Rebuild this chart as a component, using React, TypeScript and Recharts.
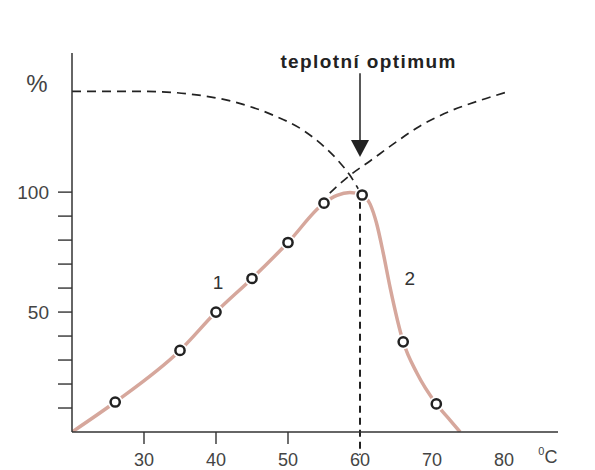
import React from 'react';
import {
  ComposedChart,
  Line,
  Scatter,
  XAxis,
  YAxis,
  ReferenceLine,
  ReferenceDot,
  Label,
} from 'recharts';

// Solid (measured) activity curve
const curveTemps = [20, 26, 35, 40, 45, 50, 55, 56.8, 58.6, 60.3, 61.4, 62.3, 63.2, 64.2, 66, 67.9, 70.6, 72.5, 73.9];
const curveActivity = [0, 12.5, 34, 50, 64, 79, 95.4, 98.6, 99.8, 98.8, 95, 87, 75, 60, 37.6, 24.6, 11.7, 5, 0];

// Measured points (open circles)
const circleTemps = [26, 35, 40, 45, 50, 55, 60.3, 66, 70.6];
const circleActivity = [12.5, 34, 50, 64, 79, 95.4, 98.8, 37.6, 11.7];

// Dashed curve 1 (stability, decreasing)
const stabTemps = [20, 30, 36, 42, 48, 52, 55, 57, 58.6, 60.2];
const stabValues = [142, 142, 141, 138, 132, 126, 119, 113, 107, 99];

// Dashed curve 2 (reaction rate, increasing)
const rateTemps = [55.8, 58.6, 61.4, 64.6, 68.3, 72.5, 76.7, 80.4];
const rateValues = [99.6, 107, 113, 120, 127.5, 133.75, 138.3, 141.7];

// Axis ticks
const xTicks = [30, 40, 50, 60, 70, 80];
const xTicksWithLine = [30, 40, 50];
const yTicks = [10, 20, 30, 40, 50, 60, 70, 80, 90, 100];
const yLabelled = [50, 100];

// Annotations
const optimumTemp = 60;
const optimumLabel = 'teplotní optimum';
const curveLabels = [
  { x: 40.3, y: 62.5, text: '1' },
  { x: 66.9, y: 64.2, text: '2' },
];

const toPoints = (xs: number[], ys: number[]) => xs.map((x, i) => ({ x, y: ys[i] }));
const curveData = toPoints(curveTemps, curveActivity);
const circleData = toPoints(circleTemps, circleActivity);
const stabData = toPoints(stabTemps, stabValues);
const rateData = toPoints(rateTemps, rateValues);

const FONT = '"Liberation Sans", Arial, sans-serif';
const AXIS = '#333';
const TICK_SIZE = 12;
const TICK_MARGIN = 9;

const XTick = (props: any) => {
  const { x, y, payload } = props;
  const v = payload.value;
  return (
    <g>
      {xTicksWithLine.includes(v) && (
        <line
          x1={x}
          x2={x}
          y1={y - TICK_SIZE - TICK_MARGIN}
          y2={y - TICK_MARGIN}
          stroke={AXIS}
          strokeWidth={1.4}
        />
      )}
      <text x={x} y={y} dy="0.71em" textAnchor="middle" fontFamily={FONT} fontSize={18} fill="#444">
        {v}
      </text>
    </g>
  );
};

const CircleMarker = (props: any) => {
  const { cx, cy } = props;
  return (
    <g>
      <circle cx={cx} cy={cy} r={7.5} fill="#fff" />
      <circle cx={cx} cy={cy} r={4.6} fill="#fff" stroke="#222" strokeWidth={2.5} />
    </g>
  );
};

const ArrowHead = (props: any) => {
  const { cx, cy } = props;
  return <polygon points={`${cx - 9},${cy - 17} ${cx + 9},${cy - 17} ${cx},${cy}`} fill="#222" />;
};

const UnitLabel = (props: any) => {
  const vb = props.viewBox || {};
  return (
    <text x={vb.x} y={vb.y} fontFamily={FONT} fill="#444" textAnchor="middle">
      <tspan fontSize={11} dy={-2}>0</tspan>
      <tspan fontSize={18} dy={8}>C</tspan>
    </text>
  );
};

export default function App() {
  return (
    <div style={{ position: 'absolute', left: 0, top: 0, background: '#fff' }}>
      <ComposedChart
        width={595}
        height={470}
        margin={{ top: 53, right: 37, bottom: 8, left: 12 }}
      >
        <XAxis
          type="number"
          dataKey="x"
          domain={[20, 87.5]}
          ticks={xTicks}
          allowDataOverflow
          height={30}
          tickLine={false}
          tickSize={TICK_SIZE}
          tickMargin={TICK_MARGIN}
          tick={<XTick />}
          axisLine={{ stroke: AXIS, strokeWidth: 1.5 }}
        />
        <YAxis
          type="number"
          dataKey="y"
          domain={[0, 158]}
          ticks={yTicks}
          allowDataOverflow
          width={60}
          tickSize={14}
          tickMargin={9}
          tickFormatter={(v: number) => (yLabelled.includes(v) ? String(v) : '')}
          tick={{ fill: '#444', fontSize: 19, fontFamily: FONT }}
          tickLine={{ stroke: AXIS, strokeWidth: 1.4 }}
          axisLine={{ stroke: AXIS, strokeWidth: 1.5 }}
        >
          <Label
            value="%"
            position="insideTop"
            offset={22}
            dx={-5}
            style={{ fontSize: 24, fontFamily: FONT, fill: '#444' }}
          />
        </YAxis>

        <Line
          data={curveData}
          dataKey="y"
          type="monotone"
          stroke="#d6a79c"
          strokeWidth={3.5}
          dot={false}
          activeDot={false}
          isAnimationActive={false}
        />
        <Line
          data={stabData}
          dataKey="y"
          type="monotone"
          stroke="#222"
          strokeWidth={1.7}
          strokeDasharray="9 6"
          dot={false}
          activeDot={false}
          isAnimationActive={false}
        />
        <Line
          data={rateData}
          dataKey="y"
          type="monotone"
          stroke="#222"
          strokeWidth={1.7}
          strokeDasharray="9 6"
          dot={false}
          activeDot={false}
          isAnimationActive={false}
        />

        <ReferenceLine
          segment={[{ x: optimumTemp, y: 96 }, { x: optimumTemp, y: -9.5 }]}
          stroke="#222"
          strokeWidth={2}
          strokeDasharray="7 5"
          ifOverflow="visible"
        />
        <ReferenceLine
          segment={[{ x: optimumTemp, y: 149.6 }, { x: optimumTemp, y: 121 }]}
          stroke="#222"
          strokeWidth={1.5}
          ifOverflow="visible"
        />
        <ReferenceDot x={optimumTemp} y={114.6} r={0} shape={<ArrowHead />} ifOverflow="visible" />

        <Scatter data={circleData} dataKey="y" shape={<CircleMarker />} isAnimationActive={false} />

        <ReferenceDot x={61.2} y={154.5} r={0} fill="none" stroke="none" ifOverflow="visible">
          <Label
            value={optimumLabel}
            position="center"
            style={{ fontSize: 19, fontWeight: 'bold', fontFamily: FONT, fill: '#222', letterSpacing: 1.4 }}
          />
        </ReferenceDot>
        {curveLabels.map((l) => (
          <ReferenceDot key={l.text} x={l.x} y={l.y} r={0} fill="none" stroke="none" ifOverflow="visible">
            <Label value={l.text} position="center" style={{ fontSize: 19, fontFamily: FONT, fill: '#333' }} />
          </ReferenceDot>
        ))}
        <ReferenceDot x={86.1} y={-10.5} r={0} fill="none" stroke="none" ifOverflow="visible">
          <Label content={<UnitLabel />} />
        </ReferenceDot>
      </ComposedChart>
    </div>
  );
}
